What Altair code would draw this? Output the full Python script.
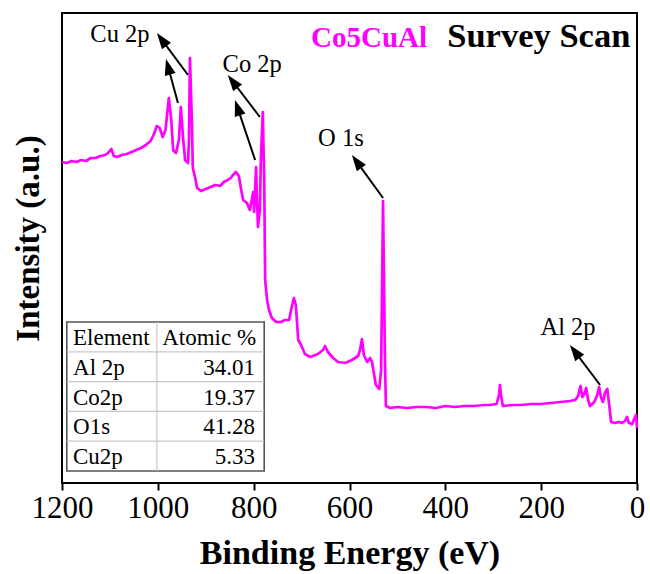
import math
import altair as alt
import pandas as pd

# ---- XPS survey spectrum of Co5CuAl (binding energy in eV, intensity in a.u.) ----
energy = [1200, 1190, 1180, 1170, 1160, 1150, 1140, 1130, 1120, 1110, 1104, 1097, 1092,
          1085, 1075, 1065, 1055, 1045, 1035, 1025, 1015, 1008, 1002, 996, 990, 984, 977,
          972, 968, 962, 956, 952, 947, 943, 937, 935, 933, 929, 927, 922, 918, 910, 900,
          890, 880, 870, 862, 854, 848, 843, 837, 831, 826, 822, 814, 808, 804, 801, 799,
          795, 793, 791, 787, 785, 781, 778, 776, 772, 768, 762, 753, 743, 735, 726, 722,
          716, 712, 707, 701, 693, 682, 666, 655, 651, 645, 634, 624, 609, 595, 582, 578,
          574, 570, 563, 557, 553, 545, 538, 534, 530, 526, 524, 515, 500, 480, 460, 440,
          420, 400, 380, 360, 340, 320, 307, 293, 288, 286, 284, 280, 260, 244, 220, 202,
          180, 160, 140, 129, 123, 118, 114, 110, 106, 102, 98, 89, 83, 79, 75, 71, 67, 62,
          58, 54, 46, 38, 31, 25, 21, 17, 10, 6, 2, 0]
intensity = [321, 320, 322, 321, 323, 322, 325, 325, 327, 328, 330, 334, 327,
             326, 328, 329, 331, 333, 335, 338, 342, 349, 357, 355, 346, 353, 385,
             363, 333, 330, 343, 376, 343, 323, 320, 343, 425, 363, 315, 305, 295, 292, 294,
             296, 298, 297, 301, 303, 305, 308, 311, 307, 293, 283, 280, 273, 283, 291, 271,
             316, 283, 256, 273, 323, 371, 303, 203, 183, 173, 165, 161, 161, 163, 163, 173,
             185, 178, 143, 138, 129, 126, 129, 133, 137, 131, 125, 121, 120, 123, 127, 133,
             144, 128, 121, 125, 121, 98, 94, 113, 282, 123, 77, 75, 76, 75, 76, 76,
             75, 77, 76, 77, 77, 78, 78, 79, 88, 98, 88, 77, 78, 78, 79, 79,
             80, 81, 82, 83, 87, 97, 86, 89, 95, 83, 77, 81, 88, 96, 85, 81, 90, 94,
             78, 61, 60, 61, 60, 62, 66, 60, 59, 64, 68, 55]

# ---- peak annotations ----
peak_labels = ["Cu 2p", "Co 2p", "O 1s", "Al 2p"]
label_energy = [1079, 803, 618, 144]
label_intensity = [448, 418, 344, 155]

arrow_start_e = [937, 958, 787, 797, 530, 77]
arrow_start_i = [408, 380, 366, 323, 285, 98]
arrow_tip_e = [1002, 983, 854, 839, 595, 140]
arrow_tip_i = [450, 424, 408, 383, 328, 138]

# ---- composition table ----
elements = ["Al 2p", "Co2p", "O1s", "Cu2p"]
atomic_pct = [34.01, 19.37, 41.28, 5.33]
table_header = ["Element", "Atomic %"]

# ---- layout ----
W, H = 575, 470
E_MAX, I_MAX = 1200, 470
SERIF = "Liberation Serif"
MAGENTA = "#ff00ff"

x_scale = alt.Scale(domain=[0, E_MAX], reverse=True, nice=False, zero=False)
y_scale = alt.Scale(domain=[0, I_MAX], nice=False, zero=False)
X = lambda f: alt.X(f, type="quantitative", scale=x_scale)
Y = lambda f: alt.Y(f, type="quantitative", scale=y_scale)

spec_df = pd.DataFrame({"E": energy, "I": intensity})

spectrum = alt.Chart(spec_df).mark_line(
    color=MAGENTA, strokeWidth=2.7, strokeJoin="round"
).encode(
    x=alt.X("E:Q", scale=x_scale,
            axis=alt.Axis(values=[0, 200, 400, 600, 800, 1000, 1200], format="d",
                          title="Binding Energy (eV)", grid=False, domain=False,
                          tickSize=7, tickWidth=2, tickColor="black",
                          labelFont=SERIF, labelFontSize=31, labelColor="black",
                          labelPadding=3, labelFlush=False,
                          titleFont=SERIF, titleFontSize=34, titleFontWeight="bold",
                          titleColor="black", titleBaseline="alphabetic", titleY=80)),
    y=alt.Y("I:Q", scale=y_scale,
            axis=alt.Axis(labels=False, ticks=False, domain=False, grid=False,
                          title="Intensity (a.u.)", titleFont=SERIF, titleFontSize=33,
                          titleFontWeight="bold", titleColor="black", titleAngle=270,
                          titleBaseline="alphabetic", titleX=-24, titleY=225,
                          titleAlign="center")),
    order=alt.Order("idx:Q"),
).transform_window(idx="row_number()", sort=[alt.SortField("E", order="descending")])

# arrows: shaft + head, head oriented along the shaft in screen space
ppe = W / E_MAX
ppi = H / I_MAX
HEAD_SIZE = 289
r = math.sqrt(HEAD_SIZE) / 2
rows = []
for se, si, te, ti in zip(arrow_start_e, arrow_start_i, arrow_tip_e, arrow_tip_i):
    dx = -(te - se) * ppe
    dy = -(ti - si) * ppi
    length = math.hypot(dx, dy)
    ux, uy = dx / length, dy / length
    ang = math.degrees(math.atan2(ux, -uy)) % 360
    he = te + r * ux / ppe
    hi = ti + r * uy / ppi
    rows.append({"se": se, "si": si, "he": he, "hi": hi, "ang": ang})
arrow_df = pd.DataFrame(rows)

shafts = alt.Chart(arrow_df).mark_rule(color="black", strokeWidth=2).encode(
    x=X("se"), y=Y("si"), x2="he", y2="hi")
heads = alt.Chart(arrow_df).mark_point(
    shape="M0,-1L0.66,0.9L-0.66,0.9Z", filled=True, color="black", opacity=1,
    size=HEAD_SIZE, strokeWidth=0
).encode(x=X("he"), y=Y("hi"), angle=alt.Angle("ang:Q", scale=None))

label_df = pd.DataFrame({"t": peak_labels, "e": label_energy, "i": label_intensity})
labels = alt.Chart(label_df).mark_text(
    font=SERIF, fontSize=24.5, color="black", align="center", baseline="middle"
).encode(x=X("e"), y=Y("i"), text="t:N")

# title words inside the frame
title_df = pd.DataFrame({"t": ["Co5CuAl", "Survey Scan"], "e": [438, 396], "i": [436, 436]})
title_left = alt.Chart(title_df.iloc[[0]]).mark_text(
    font=SERIF, fontSize=29, fontWeight="bold", color=MAGENTA, align="right",
    baseline="alphabetic").encode(x=X("e"), y=Y("i"), text="t:N")
title_right = alt.Chart(title_df.iloc[[1]]).mark_text(
    font=SERIF, fontSize=34.5, fontWeight="bold", color="black", align="left",
    baseline="alphabetic").encode(x=X("e"), y=Y("i"), text="t:N")

# ---- table drawn in data coordinates ----
T_LEFT, T_MID, T_RIGHT = 1190, 1002, 778
T_TOP, ROW_H = 161, 29.8
n_rows = len(elements) + 1
T_BOTTOM = T_TOP - ROW_H * n_rows

table_bg = alt.Chart(pd.DataFrame({"x1": [T_LEFT], "x2": [T_RIGHT], "y1": [T_TOP], "y2": [T_BOTTOM]})).mark_rect(
    fill="white", stroke="#555555", strokeWidth=1.6
).encode(x=X("x1"), x2="x2", y=Y("y1"), y2="y2")

hlines = pd.DataFrame({"y": [T_TOP - ROW_H * k for k in range(1, n_rows)],
                       "x1": T_LEFT, "x2": T_RIGHT})
table_h = alt.Chart(hlines).mark_rule(color="#c8c8c8", strokeWidth=1.2).encode(
    x=X("x1"), x2="x2", y=Y("y"))
table_v = alt.Chart(pd.DataFrame({"x": [T_MID], "y1": [T_TOP], "y2": [T_BOTTOM]})).mark_rule(
    color="#c8c8c8", strokeWidth=1.2).encode(x=X("x"), y=Y("y1"), y2="y2")

cells_left = pd.DataFrame({
    "t": [table_header[0]] + elements,
    "y": [T_TOP - ROW_H * (k + 0.5) for k in range(n_rows)],
    "x": 1177,
})
cells_hdr = pd.DataFrame({"t": [table_header[1]], "y": [T_TOP - ROW_H * 0.5], "x": [991]})
cells_val = pd.DataFrame({
    "t": [f"{v:.2f}" for v in atomic_pct],
    "y": [T_TOP - ROW_H * (k + 1.5) for k in range(len(atomic_pct))],
    "x": 797,
})
txt = dict(font=SERIF, fontSize=23, color="black", baseline="middle", dy=1)
t_left = alt.Chart(cells_left).mark_text(align="left", **txt).encode(x=X("x"), y=Y("y"), text="t:N")
t_hdr = alt.Chart(cells_hdr).mark_text(align="left", **txt).encode(x=X("x"), y=Y("y"), text="t:N")
t_val = alt.Chart(cells_val).mark_text(align="right", **txt).encode(x=X("x"), y=Y("y"), text="t:N")

chart = alt.layer(
    spectrum, table_bg, table_h, table_v, t_left, t_hdr, t_val,
    shafts, heads, labels, title_left, title_right
).properties(
    width=W, height=H,
    autosize=alt.AutoSizeParams(type="none"),
    padding={"left": 62, "top": 13, "right": 13, "bottom": 91},
    background="white",
).configure_view(
    stroke="black", strokeWidth=2
)

chart.save("out.html", embed_options={"renderer": "svg", "actions": False})
